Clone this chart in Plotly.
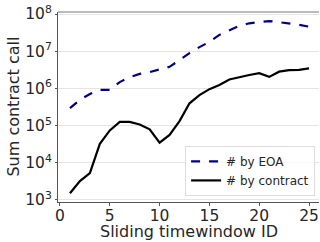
import plotly.graph_objects as go

window_ids = list(range(1, 26))
eoa_log = [5.47, 5.69, 5.85, 5.96, 5.96, 6.17, 6.30, 6.39, 6.44, 6.51,
           6.58, 6.76, 6.95, 7.11, 7.25, 7.44, 7.57, 7.68, 7.75, 7.79,
           7.81, 7.78, 7.75, 7.71, 7.66]
contract_log = [3.18, 3.51, 3.72, 4.51, 4.87, 5.10, 5.10, 5.03, 4.90, 4.54,
                4.75, 5.12, 5.60, 5.82, 5.98, 6.09, 6.24, 6.31, 6.36, 6.41,
                6.31, 6.45, 6.49, 6.50, 6.54]
eoa_calls = [10 ** v for v in eoa_log]
contract_calls = [10 ** v for v in contract_log]

y_tick_vals = [1e3, 1e4, 1e5, 1e6, 1e7, 1e8]
y_tick_text = ["10<sup>3</sup>", "10<sup>4</sup>", "10<sup>5</sup>",
               "10<sup>6</sup>", "10<sup>7</sup>", "10<sup>8</sup>"]
x_tick_vals = [0, 5, 10, 15, 20, 25]

fig = go.Figure()
fig.add_trace(go.Scatter(x=window_ids, y=eoa_calls, mode="lines", name="# by EOA",
                         line=dict(color="#00008B", width=2.2, dash="dash")))
fig.add_trace(go.Scatter(x=window_ids, y=contract_calls, mode="lines", name="# by contract",
                         line=dict(color="black", width=2.2)))

font_family = "DejaVu Sans"
fig.update_layout(
    width=320, height=242,
    margin=dict(l=58, r=1, t=12, b=40, autoexpand=False),
    paper_bgcolor="white", plot_bgcolor="white",
    font=dict(family=font_family, color="#262626"),
    showlegend=True,
    legend=dict(x=0.985, y=0.032, xanchor="right", yanchor="bottom",
                bgcolor="rgba(255,255,255,0.8)", bordercolor="#dddddd", borderwidth=1,
                font=dict(size=12, color="#262626"), tracegroupgap=0, itemwidth=30),
    xaxis=dict(range=[-0.2, 26], tickvals=x_tick_vals, showgrid=False, automargin=False,
               ticks="outside", ticklen=3, tickcolor="#555", tickfont=dict(size=15.5),
               ticklabelstandoff=-4,
               showline=True, linecolor="#555", linewidth=1, mirror=False, zeroline=False),
    yaxis=dict(type="log", range=[2.946, 8.054], tickvals=y_tick_vals, ticktext=y_tick_text,
               showgrid=True, gridcolor="#e5e5e5", gridwidth=1, automargin=False,
               ticks="outside", ticklen=2, tickcolor="#555", tickfont=dict(size=15.5),
               showline=True, linecolor="#555", linewidth=1, mirror=False, zeroline=False),
    shapes=[dict(type="line", xref="paper", yref="paper", x0=0, x1=1, y0=1, y1=1,
                 line=dict(color="#777", width=1))],
    annotations=[
        dict(text="Sliding timewindow ID", xref="paper", yref="paper", x=0.5, y=-0.153,
             xanchor="center", yanchor="middle", showarrow=False, font=dict(size=16)),
        dict(text="Sum contract call", xref="paper", yref="paper", x=-0.174, y=0.5,
             xanchor="center", yanchor="middle", showarrow=False, textangle=-90,
             font=dict(size=16)),
    ],
)

fig.write_html("out.html", config={"displayModeBar": False},
               post_script="document.body.style.margin='0';document.body.style.padding='0';")
